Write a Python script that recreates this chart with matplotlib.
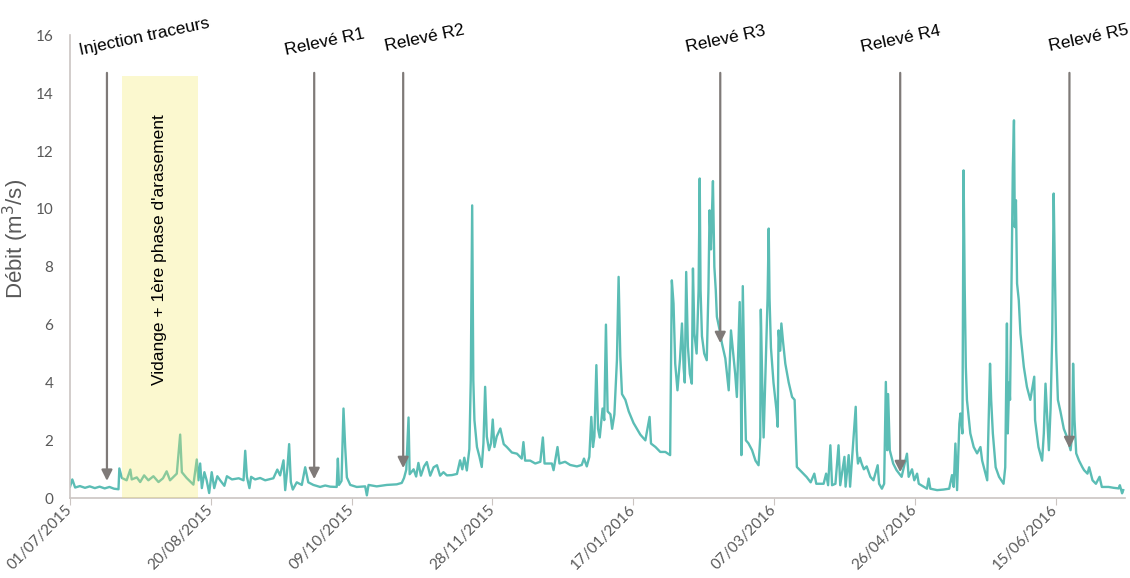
import matplotlib
matplotlib.use('Agg')
import matplotlib.pyplot as plt
import matplotlib.dates as mdates
import pandas as pd

plt.rcParams['font.family'] = ['Liberation Sans', 'DejaVu Sans']

start = pd.Timestamp('2015-07-01')

# debit: days since 01/07/2015, flow in m3/s
day = [
    0.0, 0.8, 1.8, 3.5, 5.3, 7.0, 8.8, 10.5, 12.3, 14.0, 15.6, 17.2, 17.5, 18.4,
    20.1, 21.4, 21.9, 23.7, 24.9, 26.3, 27.8, 29.6, 31.4, 33.0, 34.3, 35.5, 37.9,
    39.1, 39.7, 41.4, 43.8, 45.0, 45.6, 46.2, 46.8, 47.7, 48.5, 49.4, 50.3, 51.2,
    52.3, 53.3, 54.8, 55.7, 57.5, 59.9, 61.6, 62.2, 62.8, 63.7, 64.3, 65.7, 67.5,
    69.3, 72.2, 73.6, 74.6, 75.8, 76.4, 77.2, 77.8, 78.4, 79.1, 80.5, 82.3, 83.5,
    84.6, 86.4, 88.8, 90.6, 92.4, 94.7, 95.1, 95.5, 96.4, 97.1, 97.7, 98.3, 99.5,
    101.8, 104.8, 105.4, 106.0, 108.9, 112.5, 116.0, 117.8, 118.6, 119.4, 120.2,
    120.6, 122.0, 122.9, 123.7, 124.6, 125.7, 126.7, 127.9, 129.1, 130.3, 131.4,
    132.6, 133.8, 135.6, 137.4, 138.5, 139.3, 140.0, 140.9, 141.8, 142.3, 142.8,
    143.2, 143.6, 144.5, 145.4, 146.2, 146.8, 147.4, 148.0, 148.8, 149.5, 150.1,
    150.7, 151.5, 152.8, 154.0, 155.1, 156.9, 158.7, 160.4, 161.0, 161.6, 163.4,
    165.2, 167.0, 167.9, 168.5, 171.1, 171.7, 173.1, 173.8, 175.8, 177.6, 180.0,
    181.7, 182.5, 183.5, 184.4, 185.1, 185.7, 186.2, 186.9, 187.5, 188.1, 189.1,
    189.7, 190.3, 190.9, 191.9, 192.5, 193.3, 194.2, 194.8, 195.4, 196.0, 197.2,
    198.4, 200.1, 202.5, 204.3, 205.8, 206.3, 207.9, 209.6, 211.4, 213.1, 213.7,
    214.3, 214.9, 215.7, 216.6, 217.3, 217.9, 218.3, 218.8, 219.4, 220.1, 220.8,
    221.2, 221.7, 222.5, 223.2, 223.6, 223.9, 224.4, 225.2, 226.1, 226.7, 227.1,
    227.6, 227.9, 228.3, 228.8, 229.3, 229.7, 230.7, 231.5, 232.7, 233.9, 234.7,
    235.4, 236.2, 236.8, 237.8, 238.2, 238.4, 238.9, 239.5, 240.0, 240.9, 242.2,
    243.4, 244.5, 245.1, 245.3, 245.8, 246.3, 246.7, 247.2, 247.7, 248.1, 248.4,
    248.9, 249.8, 250.8, 251.3, 251.6, 252.2, 252.6, 253.2, 254.0, 255.2, 256.4,
    257.3, 258.1, 259.9, 261.6, 263.0, 264.3, 265.0, 267.6, 268.5, 269.2, 270.0,
    270.6, 271.8, 272.9, 273.5, 275.0, 275.4, 276.5, 277.0, 279.0, 279.4, 279.8,
    280.5, 281.1, 281.9, 282.9, 284.2, 285.3, 286.8, 287.3, 288.3, 289.1, 289.7,
    290.2, 290.5, 291.1, 292.3, 293.5, 295.3, 297.2, 297.8, 299.0, 299.8, 300.8,
    301.4, 304.3, 304.9, 305.5, 307.9, 310.2, 312.2, 312.8, 313.2, 313.8, 314.4,
    315.0, 315.8, 316.2, 316.9, 317.3, 317.7, 318.1, 318.5, 319.7, 320.9, 322.1,
    323.3, 323.9, 325.1, 325.7, 326.7, 327.1, 327.7, 328.7, 329.9, 331.5, 332.1,
    332.7, 333.0, 333.5, 333.8, 334.4, 334.8, 335.2, 335.5, 335.9, 336.3, 336.9,
    337.5, 338.7, 339.8, 341.0, 342.4, 342.7, 343.9, 345.2, 345.8, 346.4, 347.0,
    347.6, 348.2, 348.8, 349.3, 349.7, 350.2, 350.8, 351.7, 352.9, 354.1, 355.3,
    355.9, 356.2, 356.7, 357.3, 358.3, 359.5, 360.1, 361.3, 361.9, 363.1, 364.3,
    365.6, 366.4, 368.8, 370.6, 372.4, 372.8, 373.6, 374.0,
]
flow = [
    0.40, 0.65, 0.37, 0.42, 0.36, 0.41, 0.35, 0.40, 0.34, 0.39, 0.33, 0.31, 1.03, 0.70,
    0.62, 0.99, 0.65, 0.72, 0.56, 0.79, 0.62, 0.76, 0.56, 0.69, 0.93, 0.62, 0.85,
    2.20, 0.90, 0.70, 0.47, 1.34, 0.62, 1.20, 0.35, 0.90, 0.62, 0.18, 0.90, 0.35,
    0.76, 0.62, 0.43, 0.76, 0.65, 0.69, 0.62, 1.64, 0.74, 0.35, 0.74, 0.65, 0.70,
    0.62, 0.69, 0.99, 0.79, 1.31, 0.28, 1.07, 1.87, 0.56, 0.30, 0.55, 0.46, 1.07,
    0.55, 0.46, 0.39, 0.44, 0.40, 0.39, 1.37, 0.46, 0.60, 3.10, 1.77, 0.72, 0.46,
    0.39, 0.41, 0.10, 0.46, 0.41, 0.46, 0.48, 0.53, 0.70, 0.99, 2.79,
    0.83, 1.00, 0.75, 1.22, 0.78, 1.10, 1.25, 0.78, 1.07, 1.14, 0.78,
    0.90, 0.79, 0.80, 0.84, 1.31, 1.00, 1.40, 0.96, 1.70, 4.08, 10.12,
    4.08, 2.70, 1.77, 1.43, 1.08, 1.90, 3.85, 2.13, 1.66, 1.90, 2.72,
    1.77, 2.13, 2.41, 1.87, 1.77, 1.58, 1.54, 1.37, 1.94, 1.30, 1.30,
    1.20, 1.26, 2.10, 1.20, 1.20, 0.97, 1.77, 1.20, 1.26, 1.15, 1.10,
    1.15, 1.37, 1.10, 1.43, 2.81, 1.77, 2.13, 4.60, 2.40, 2.10, 3.10,
    2.70, 6.00, 3.00, 2.90, 2.40, 2.90, 4.77, 7.65, 4.90, 3.60, 3.40,
    3.00, 2.60, 2.20, 2.00, 2.81, 1.89, 1.77, 1.60, 1.60, 1.49, 7.53,
    6.73, 4.65, 3.73, 4.80, 6.04, 4.50, 4.00, 7.82, 5.25, 4.30, 3.96,
    7.94, 5.70, 5.00, 7.20, 11.05, 7.20, 5.60, 5.00, 4.77, 7.20, 9.95,
    8.60, 9.70, 10.96, 8.00, 7.20, 6.27, 5.80, 5.35, 4.83, 3.73, 5.80,
    5.10, 4.30, 3.50, 6.78, 4.00, 1.49, 7.33, 4.00, 2.00, 1.90, 1.66,
    1.30, 1.14, 2.10, 6.52, 4.00, 2.10, 3.50, 5.20, 6.90, 9.32, 6.90,
    5.20, 4.00, 3.10, 2.47, 5.80, 5.10, 6.04, 5.40, 4.65, 4.00, 3.50,
    3.40, 1.08, 0.90, 0.73, 0.55, 0.85, 0.50, 0.50, 0.85, 0.45, 1.83,
    0.45, 0.50, 1.83, 0.45, 1.43, 0.40, 1.49, 0.40, 3.16, 1.66, 1.20,
    1.40, 1.20, 1.00, 1.10, 0.74, 0.62, 1.14, 0.50, 0.33, 0.50, 4.02,
    1.66, 3.60, 1.66, 1.20, 0.97, 0.74, 1.54, 0.74, 1.00, 0.62, 0.85,
    0.50, 0.33, 0.68, 0.33, 0.28, 0.30, 0.33, 0.62, 0.80, 0.39, 1.89,
    0.28, 2.58, 2.93, 2.24, 11.33, 7.30, 4.54, 3.40, 2.24, 1.77, 1.55,
    1.77, 1.30, 0.85, 0.62, 4.65, 3.40, 2.24, 1.07, 0.74, 0.50, 1.07,
    6.04, 2.24, 4.00, 3.40, 8.00, 11.45, 13.06, 9.37, 10.30, 7.42, 6.85,
    5.69, 4.54, 3.85, 3.40, 4.20, 2.70, 1.77, 1.30, 2.24, 3.96, 2.80,
    1.66, 3.10, 5.70, 10.53, 8.00, 5.10, 3.40, 3.00, 2.40, 2.10, 1.66,
    2.24, 4.65, 2.70, 1.55, 1.30, 1.07, 0.97, 0.85, 1.07, 0.62, 0.50,
    0.74, 0.39, 0.39, 0.36, 0.34, 0.45, 0.17, 0.28,
]

event_labels = ['Injection traceurs', 'Relevé R1', 'Relevé R2',
                'Relevé R3', 'Relevé R4', 'Relevé R5']
event_day = [13.1, 86.7, 118.3, 230.9, 294.8, 354.9]
event_tip = [0.60, 0.66, 1.04, 5.36, 0.90, 1.73]
works_start, works_end = 18.3, 45.4
works_label = "Vidange + 1ère phase d'arasement"

def to_date(d):
    return start + pd.to_timedelta(d, unit='D')

dates = to_date(pd.Series(day))

fig = plt.figure(figsize=(11.3, 5.78), dpi=100)
ax = fig.add_axes([0.062, 0.138, 0.934, 0.801])

# drained reservoir period (drawn over the line, as in the source)
ax.axvspan(to_date(works_start), to_date(works_end), ymin=0, ymax=14.6 / 16,
           color='#f5e862', alpha=0.3, lw=0, zorder=3)
ax.text(to_date((works_start + works_end) / 2), 8.6, works_label,
        rotation=90, ha='center', va='center', fontsize=12.5, color='black', zorder=4)

ax.plot(dates, flow, color='#5bbdb5', lw=1.7, zorder=2)

# event arrows + labels
label_offset = [13.2, 3.9, 7.8, 2.1, 0.0, 6.7]
label_y = [15.95, 15.75, 15.9, 15.85, 15.85, 15.9]
for name, d, tip, off, ly in zip(event_labels, event_day, event_tip, label_offset, label_y):
    ax.annotate('', xy=(to_date(d), tip), xytext=(to_date(d), 14.7),
                arrowprops=dict(arrowstyle='-|>', color='#7f7a78', lw=1.6,
                                mutation_scale=16, shrinkA=0, shrinkB=0), zorder=5)
    ax.text(to_date(d + off), ly, name, rotation=12, rotation_mode='anchor',
            ha='center', va='center', fontsize=12.5, color='black', clip_on=False)

ax.set_ylim(0, 16)
ax.set_yticks(range(0, 17, 2))
ax.set_xlim(start, to_date(374.8))
ax.set_xticks(pd.date_range(start, periods=8, freq='50D'))
ax.xaxis.set_major_formatter(mdates.DateFormatter('%d/%m/%Y'))

for s in ['top', 'right']:
    ax.spines[s].set_visible(False)
for s in ['left', 'bottom']:
    ax.spines[s].set_color('#cbc5c2')
    ax.spines[s].set_linewidth(1.2)

ax.tick_params(axis='y', length=0, pad=12, labelsize=11, labelcolor='#595959')
ax.tick_params(axis='x', length=5, color='#cbc5c2', pad=2, labelsize=11,
               labelcolor='#595959')
for lab in ax.get_xticklabels() + ax.get_yticklabels():
    lab.set_family('Lato')
for lab in ax.get_xticklabels():
    lab.set_rotation(45)
    lab.set_ha('right')
    lab.set_va('center')
    lab.set_rotation_mode('anchor')

ax.set_ylabel('Débit (m$^3$/s)', fontsize=16, color='#595959')
ax.yaxis.set_label_coords(-0.037, 0.56)

fig.savefig('out.png', dpi=100)
